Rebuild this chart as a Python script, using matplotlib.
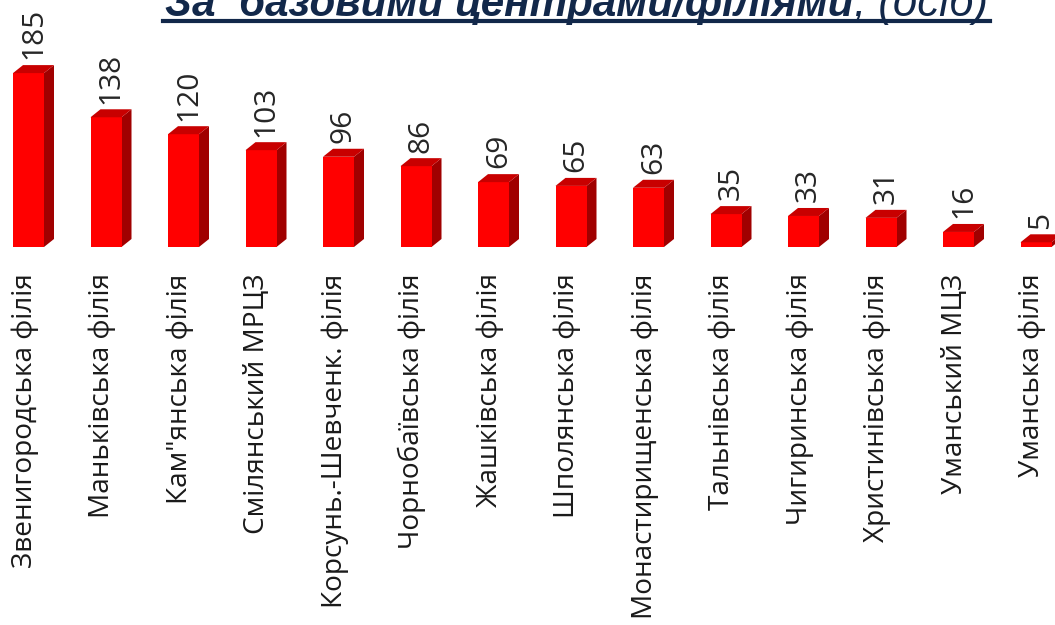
import matplotlib
matplotlib.use("Agg")
import matplotlib.pyplot as plt
from matplotlib.patches import Polygon
from matplotlib.lines import Line2D

categories = ["Звенигородська філія", "Маньківська філія", "Кам\"янська філія",
              "Смілянський МРЦЗ", "Корсунь.-Шевченк. філія", "Чорнобаївська філія",
              "Жашківська філія", "Шполянська філія", "Монастирищенська філія",
              "Тальнівська філія", "Чигиринська філія", "Христинівська філія",
              "Уманський МЦЗ", "Уманська філія"]
values = [185, 138, 120, 103, 96, 86, 69, 65, 63, 35, 33, 31, 16, 5]
title_bold = "За  базовими центрами/філіями"
title_rest = ", (осіб)"

W, H = 1055, 625
fig = plt.figure(figsize=(W / 100, H / 100), dpi=100)
ax = fig.add_axes([0, 0, 1, 1])
ax.axis("off")

px_per_cat = 77.5
px_per_unit = 0.94
base_px_from_top = 247
x0_px = 28.5
ax.set_xlim(-x0_px / px_per_cat, (W - x0_px) / px_per_cat)
ax.set_ylim(-(H - base_px_from_top) / px_per_unit, base_px_from_top / px_per_unit)

bw = 31 / px_per_cat
dx = 10 / px_per_cat
dy = 8 / px_per_unit

front_c = "#FF0000"
top_c = "#C80000"
side_c = "#A00000"

for i, v in enumerate(values):
    l, r = i - bw / 2, i + bw / 2
    ax.bar(i, v, width=bw, color=front_c, zorder=3, linewidth=0)
    ax.add_patch(Polygon([(l, v), (l + dx, v + dy), (r + dx, v + dy), (r, v)],
                         closed=True, facecolor=top_c, edgecolor="none", zorder=3))
    ax.add_patch(Polygon([(r, 0), (r + dx, dy), (r + dx, v + dy), (r, v)],
                         closed=True, facecolor=side_c, edgecolor="none", zorder=2))
    ax.text(i + dx / 2, v + dy + 6, str(v), rotation=90, ha="center", va="bottom",
            fontsize=21.5, color="#262626", family="Open Sans")
    ax.text(i - 0.05, -28, categories[i], rotation=90, ha="center", va="top",
            fontsize=20.2, color="#1a1a1a", family="Open Sans")

# title (partially cut off at top, as in the reference)
navy = "#12284A"
t1 = fig.text(165 / W, 1 - 16 / H, title_bold, ha="left", va="baseline",
              fontsize=30.3, fontweight="bold", fontstyle="italic", color=navy,
              family="Liberation Sans")
fig.canvas.draw()
r = fig.canvas.get_renderer()
bb = t1.get_window_extent(r)
t2 = fig.text(bb.x1 / W, 1 - 16 / H, title_rest, ha="left", va="baseline",
              fontsize=31.5, fontstyle="italic", color=navy, family="Liberation Sans")
fig.add_artist(Line2D([163 / W, 990 / W], [1 - 20.5 / H, 1 - 20.5 / H],
                      color=navy, linewidth=3, transform=fig.transFigure))

fig.savefig("out.png", dpi=100)
